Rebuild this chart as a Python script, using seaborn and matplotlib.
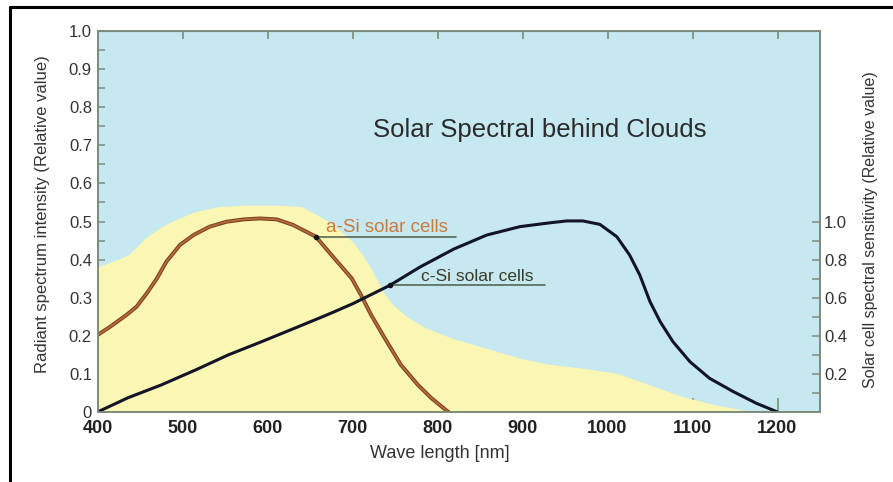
import numpy as np
import pandas as pd
import matplotlib
matplotlib.use("Agg")
import matplotlib.pyplot as plt
import seaborn as sns
from matplotlib.ticker import MultipleLocator
from matplotlib.lines import Line2D

# ---- data ----
# Solar spectrum behind clouds (left axis, relative)
spec_nm = [400, 417, 436, 456, 475, 495, 515, 542, 573, 612, 640, 662, 680, 700,
           712, 724, 736, 748, 764, 787, 818, 858, 897, 932, 971, 1011, 1050,
           1089, 1128, 1159, 1165]
spec_val = [0.38, 0.395, 0.412, 0.456, 0.486, 0.508, 0.526, 0.539, 0.543, 0.543,
            0.539, 0.513, 0.487, 0.447, 0.412, 0.368, 0.316, 0.281, 0.25, 0.22,
            0.193, 0.167, 0.141, 0.125, 0.115, 0.102, 0.071, 0.04, 0.018, 0.005,
            0.0]

# a-Si solar cell sensitivity (right axis, relative)
asi_nm = [400, 415, 434, 446, 458, 470, 481, 497, 513, 532, 552, 572, 591, 611,
          630, 657, 678, 699, 710, 722, 738, 757, 777, 793, 810, 813]
asi_val = [0.404, 0.448, 0.509, 0.553, 0.623, 0.702, 0.789, 0.877, 0.929, 0.973,
           0.999, 1.011, 1.016, 1.011, 0.982, 0.92, 0.81, 0.702, 0.614, 0.509,
           0.387, 0.247, 0.142, 0.072, 0.01, 0.0]

# c-Si solar cell sensitivity (right axis, relative)
csi_nm = [400, 436, 475, 515, 554, 593, 632, 662, 679, 701, 744, 779, 819, 858,
          897, 932, 952, 971, 991, 1011, 1026, 1038, 1050, 1062, 1077, 1097,
          1120, 1148, 1175, 1200]
csi_val = [0.0, 0.075, 0.142, 0.22, 0.30, 0.369, 0.44, 0.495, 0.527, 0.57, 0.665,
           0.76, 0.855, 0.929, 0.973, 0.993, 1.003, 1.003, 0.985, 0.92, 0.824,
           0.719, 0.579, 0.474, 0.369, 0.264, 0.177, 0.107, 0.046, 0.0]

x_ticks = [400, 500, 600, 700, 800, 900, 1000, 1100, 1200]
x_tick_labels = ["400", "500", "600", "700", "800", "900", "1000", "1100", "1200"]
left_ticks = [0, 0.1, 0.2, 0.3, 0.4, 0.5, 0.6, 0.7, 0.8, 0.9, 1.0]
left_tick_labels = ["0", "0.1", "0.2", "0.3", "0.4", "0.5", "0.6", "0.7", "0.8", "0.9", "1.0"]
right_ticks = [0.2, 0.4, 0.6, 0.8, 1.0]
right_tick_labels = ["0.2", "0.4", "0.6", "0.8", "1.0"]
right_minor = [0.1, 0.3, 0.5, 0.7, 0.9]

title = "Solar Spectral behind Clouds"
x_label = "Wave length [nm]"
left_label = "Radiant spectrum intensity (Relative value)"
right_label = "Solar cell spectral sensitivity (Relative value)"
asi_label = "a-Si solar cells"
csi_label = "c-Si solar cells"

# ---- style ----
sns.set_style("ticks")
plt.rcParams['font.family'] = ['Liberation Sans', 'DejaVu Sans']

SKY = '#c6e8f0'
SUN = '#faf6b4'
SPINE = '#7d8c78'
TXT = '#333333'

fig = plt.figure(figsize=(8.93, 4.82), dpi=100)
fig.patch.set_facecolor('white')
ax = fig.add_axes([97.5 / 893, 1 - 412 / 482, (820 - 97.5) / 893, (412 - 31) / 482])
ax.set_facecolor(SKY)

ax.fill_between(spec_nm, 0, spec_val, color=SUN, lw=0, zorder=1)
ax.set_xlim(400, 1250)
ax.set_ylim(0, 1.0)

ax2 = ax.twinx()
ax2.set_ylim(0, 2.0)

df_a = pd.DataFrame({"nm": asi_nm, "val": asi_val})
df_c = pd.DataFrame({"nm": csi_nm, "val": csi_val})
sns.lineplot(data=df_a, x="nm", y="val", ax=ax2, color='#7a4020', lw=2.8,
             estimator=None, sort=False, solid_joinstyle='round', solid_capstyle='round')
sns.lineplot(data=df_a, x="nm", y="val", ax=ax2, color='#b46a3c', lw=1.3,
             estimator=None, sort=False, solid_joinstyle='round')
sns.lineplot(data=df_c, x="nm", y="val", ax=ax2, color='#141428', lw=2.2,
             estimator=None, sort=False, solid_joinstyle='round', solid_capstyle='round')
ax2.set_xlabel("")
ax2.set_ylabel("")
ax.set_xlabel("")
ax.set_ylabel("")

# annotations
a_mark_nm, a_end_nm, a_text_nm = 657, 822, 669
c_mark_nm, c_end_nm, c_text_nm = 744, 926, 781
a_y = float(np.interp(a_mark_nm, asi_nm, asi_val))
c_y = float(np.interp(c_mark_nm, csi_nm, csi_val))
ax2.plot([a_mark_nm, a_end_nm], [a_y, a_y], color='#4d5a44', lw=1.1)
ax2.plot([c_mark_nm, c_end_nm], [c_y, c_y], color='#4d5a44', lw=1.1)
ax2.plot([a_mark_nm], [a_y], 'o', color='#111111', ms=3)
ax2.plot([c_mark_nm], [c_y], 'o', color='#111111', ms=3)
ax2.text(a_text_nm, a_y + 0.026, asi_label, color='#cc7a3e', fontsize=13.5,
         ha='left', va='baseline')
ax2.text(c_text_nm, c_y + 0.022, csi_label, color='#3c3c26', fontsize=12.5,
         ha='left', va='baseline')

ax.text(920, 0.74, title, ha='center', va='center', fontsize=18.5, color='#2b2b2b')

# ticks
ax.set_xticks(x_ticks, labels=x_tick_labels)
ax.tick_params(axis='x', which='both', direction='in', length=10, width=1.2,
               color=SPINE, pad=6, labelsize=13, labelcolor='#222222')
for lab in ax.get_xticklabels():
    lab.set_fontweight('bold')
sec = ax.secondary_xaxis('top')
sec.set_xticks(x_ticks)
sec.tick_params(direction='in', length=6, width=1.2, color=SPINE, labeltop=False)
sec.spines['top'].set_color(SPINE)

ax.set_yticks(left_ticks, labels=left_tick_labels)
ax.yaxis.set_minor_locator(MultipleLocator(0.05))
ax.tick_params(axis='y', which='both', direction='in', length=5, width=1.1,
               color=SPINE, pad=4, labelsize=12, labelcolor=TXT)

ax2.set_yticks(right_ticks, labels=right_tick_labels)
ax2.set_yticks(right_minor, minor=True)
ax2.tick_params(axis='y', which='both', direction='in', length=6, width=1.1,
                color=SPINE, pad=3, labelsize=12, labelcolor=TXT)

for a in (ax, ax2):
    for s in a.spines.values():
        s.set_color(SPINE)
        s.set_linewidth(1.2)

# axis labels
fig.text(440 / 893, 1 - 454 / 482, x_label, ha='center', va='center',
         fontsize=13, color=TXT)
fig.text(43 / 893, 1 - 214 / 482, left_label, rotation=90, ha='center',
         va='center', fontsize=12, color=TXT)
fig.text(870 / 893, 1 - 230 / 482, right_label, rotation=90, ha='center',
         va='center', fontsize=11.5, color=TXT)

# outer frame
fig.add_artist(Line2D([10 / 893, 1], [1 - 7 / 482, 1 - 7 / 482],
                      transform=fig.transFigure, color='black', lw=2.2))
fig.add_artist(Line2D([10 / 893, 10 / 893], [0, 1 - 7 / 482],
                      transform=fig.transFigure, color='black', lw=2.2))

fig.savefig("out.png", dpi=100)
